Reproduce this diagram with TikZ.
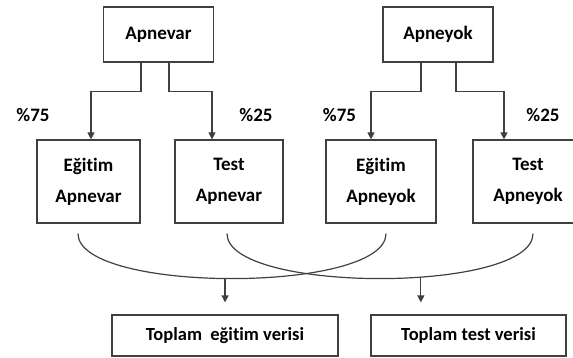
\documentclass[tikz,border=0pt]{standalone}
\usepackage{fontspec}
\setmainfont{Carlito}[Ligatures=NoCommon]
\usepackage{tikz}
\usetikzlibrary{arrows.meta,positioning}

\tikzset{
    boxline/.style={draw=black!75, line width=1.2pt},
    topbox/.style={boxline, minimum width=110pt, minimum height=55pt,
        font=\bfseries\fontsize{19}{23}\selectfont},
    midbox/.style={boxline, minimum width=108pt, minimum height=83pt, align=center,
        font=\bfseries\fontsize{19}{31}\selectfont},
    sumbox/.style={boxline, minimum height=41pt,
        font=\bfseries\fontsize{18.5}{22}\selectfont},
    ratio/.style={font=\bfseries\fontsize{19}{23}\selectfont}
}

\begin{document}
\begin{tikzpicture}[on grid, >={Triangle[length=7pt,width=7pt]}, line width=1.2pt]
            \clip (0,0) rectangle (573pt,-358pt);
            \node[topbox] (apnevar) at (158.5pt,-34.5pt) {Apnevar};
            \node[topbox] (apneyok) [right=279.5pt of apnevar] {Apneyok};
            \node[midbox, minimum width=103pt] (egitimvar) [below left=147pt and 70pt of apnevar] {Eğitim\\Apnevar};
            \node[midbox] (testvar) [below right=147pt and 70.5pt of apnevar] {Test\\Apnevar};
            \node[midbox, minimum width=110pt] (egitimyok) [below left=147pt and 57pt of apneyok] {Eğitim\\Apneyok};
            \node[midbox, minimum width=110pt] (testyok) [below right=147pt and 90pt of apneyok] {Test\\Apneyok};
            \node[sumbox, minimum width=226pt] (toplamegitim) [below right=154pt and 136.5pt of egitimvar] {Toplam\ \ eğitim verisi};
            \node[sumbox, minimum width=195pt] (toplamtest) [right=243.5pt of toplamegitim] {Toplam test verisi};
            % oranlar
            \node[ratio] (oranvar75) [above left=66.5pt and 55.5pt of egitimvar] {\%75};
            \node[ratio] (oranvar25) [above right=66.5pt and 27pt of testvar] {\%25};
            \node[ratio] (oranyok75) [above left=66.5pt and 41.5pt of egitimyok] {\%75};
            \node[ratio] (oranyok25) [above right=66.5pt and 15pt of testyok] {\%25};
            % bolme
            \draw[->, black!75] ([xshift=-17.5pt]apnevar.south) -- ++(0,-29pt) -| ([xshift=2.5pt]egitimvar.north);
            \draw[->, black!75] ([xshift=10.5pt]apnevar.south) -- ++(0,-29pt) -| ([xshift=-17pt]testvar.north);
            \draw[->, black!75] ([xshift=-17pt]apneyok.south) -- ++(0,-29pt) -| ([xshift=-10pt]egitimyok.north);
            \draw[->, black!75] ([xshift=18pt]apneyok.south) -- ++(0,-29pt) -| ([xshift=-24pt]testyok.north);
            % birlestirme
            \draw[black!75] ([shift={(-10.5pt,-10pt)}]egitimvar.south) .. controls +(0,-60pt) and +(0,-60pt) .. ([shift={(5pt,-10pt)}]egitimyok.south)
                coordinate[pos=0.485] (sumegitim);
            \draw[black!75] ([shift={(-2pt,-10pt)}]testvar.south) .. controls +(0,-60pt) and +(0,-60pt) .. ([shift={(5pt,-10pt)}]testyok.south)
                coordinate[pos=0.59] (sumtest);
            \draw[->, black!75, shorten >=12pt] (sumegitim) -- (sumegitim |- toplamegitim.north);
            \draw[->, black!75, shorten >=12pt] (sumtest) -- (sumtest |- toplamtest.north);
\end{tikzpicture}
\end{document}
